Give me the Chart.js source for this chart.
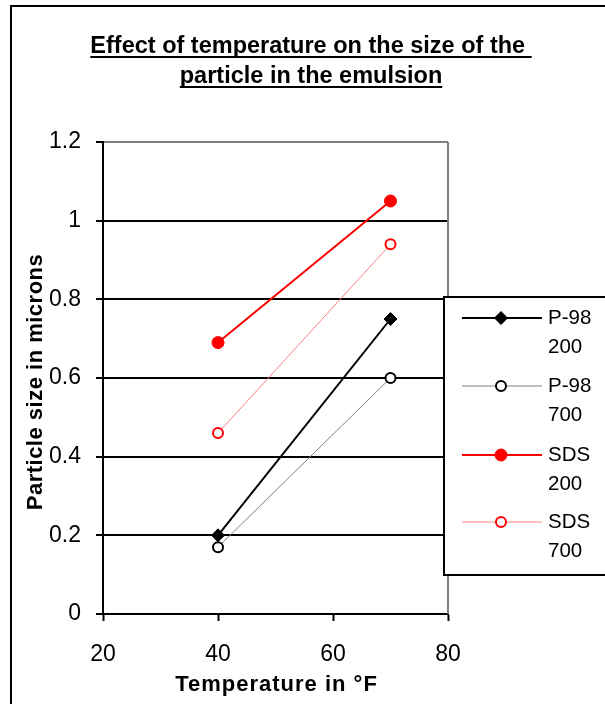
<!DOCTYPE html>
<html>
<head>
<meta charset="utf-8">
<script src="https://cdn.jsdelivr.net/npm/chart.js@4/dist/chart.umd.min.js"></script>
<style>
  html, body { margin: 0; padding: 0; background: #fff; }
  #wrap { width: 605px; height: 704px; position: relative; }
</style>
</head>
<body>
<div id="wrap"><canvas id="chart"></canvas></div>
<script>
const titleLines = ["Effect of temperature on the size of the ", "particle in the emulsion"];
const xTitle = "Temperature in °F";
const yTitle = "Particle size in microns";
const temps = [40, 70];
const p98_200 = [0.2, 0.75];
const p98_700 = [0.17, 0.6];
const sds_200 = [0.69, 1.05];
const sds_700 = [0.46, 0.94];
const seriesLabels = [["P-98", "200"], ["P-98", "700"], ["SDS", "200"], ["SDS", "700"]];

const FONT = "'Liberation Sans', Arial, sans-serif";

function toPoints(values) {
  return temps.map((t, i) => ({ x: t, y: values[i] }));
}

// frame, underlined title, axis titles, gray plot border and the boxed legend
const decor = {
  id: "decor",
  beforeDraw(chart) {
    const ctx = chart.ctx;
    const area = chart.chartArea;
    ctx.save();
    ctx.fillStyle = "#fff";
    ctx.fillRect(0, 0, chart.width, chart.height);
    ctx.strokeStyle = "#000";
    ctx.lineWidth = 2;
    ctx.strokeRect(11, 6, 700, 800);

    ctx.font = "bold 23.5px " + FONT;
    ctx.fillStyle = "#000";
    ctx.textAlign = "center";
    ctx.textBaseline = "alphabetic";
    titleLines.forEach((line, i) => {
      const y = 53 + i * 30;
      ctx.fillText(line, 311, y);
      const w = ctx.measureText(line).width;
      ctx.fillRect(311 - w / 2, y + 3, w, 2);
    });

    // axis titles, slightly letter-spaced like the original
    ctx.font = "bold 22px " + FONT;
    ctx.letterSpacing = "1px";
    ctx.fillText(xTitle, (area.left + area.right) / 2 + 1, 691);
    ctx.letterSpacing = "0.5px";
    ctx.translate(42, 382);
    ctx.rotate(-Math.PI / 2);
    ctx.fillText(yTitle, 0, 0);
    ctx.restore();
  },
  beforeDatasetsDraw(chart) {
    const { ctx, chartArea } = chart;
    ctx.save();
    ctx.strokeStyle = "#808080";
    ctx.lineWidth = 2;
    ctx.beginPath();
    ctx.moveTo(chartArea.right, chartArea.top);
    ctx.lineTo(chartArea.right, chartArea.bottom);
    ctx.stroke();
    ctx.restore();
  },
  afterDraw(chart) {
    const ctx = chart.ctx;
    ctx.save();
    ctx.fillStyle = "#fff";
    ctx.fillRect(444, 297, 170, 278);
    ctx.strokeStyle = "#000";
    ctx.lineWidth = 2;
    ctx.strokeRect(444, 297, 170, 278);

    const rows = [318, 386, 455, 522];
    chart.data.datasets.forEach((ds, i) => {
      const y = rows[i];
      ctx.strokeStyle = ds.borderColor;
      ctx.lineWidth = ds.borderWidth;
      ctx.beginPath();
      ctx.moveTo(462, y);
      ctx.lineTo(542, y);
      ctx.stroke();

      ctx.fillStyle = ds.pointBackgroundColor;
      ctx.strokeStyle = ds.pointBorderColor;
      ctx.lineWidth = ds.pointBorderWidth;
      ctx.beginPath();
      if (ds.pointStyle === "rectRot") {
        const r = ds.pointRadius;
        ctx.moveTo(501, y - r);
        ctx.lineTo(501 + r, y);
        ctx.lineTo(501, y + r);
        ctx.lineTo(501 - r, y);
        ctx.closePath();
      } else {
        ctx.arc(501, y, ds.pointRadius, 0, Math.PI * 2);
      }
      ctx.fill();
      ctx.stroke();

      ctx.fillStyle = "#000";
      ctx.font = "20.5px " + FONT;
      ctx.textAlign = "left";
      ctx.textBaseline = "middle";
      ds.label.forEach((txt, j) => ctx.fillText(txt, 548, y + j * 29));
    });
    ctx.restore();
  }
};

const ctx = document.getElementById("chart").getContext("2d");
new Chart(ctx, {
  type: "line",
  data: {
    datasets: [
      {
        label: seriesLabels[0],
        data: toPoints(p98_200),
        borderColor: "#000",
        borderWidth: 2,
        pointStyle: "rectRot",
        pointRadius: 6.5,
        pointBackgroundColor: "#000",
        pointBorderColor: "#000",
        pointBorderWidth: 1
      },
      {
        label: seriesLabels[1],
        data: toPoints(p98_700),
        borderColor: "#808080",
        borderWidth: 1,
        pointStyle: "circle",
        pointRadius: 5,
        pointBackgroundColor: "#fff",
        pointBorderColor: "#000",
        pointBorderWidth: 2
      },
      {
        label: seriesLabels[2],
        data: toPoints(sds_200),
        borderColor: "#ff0000",
        borderWidth: 2,
        pointStyle: "circle",
        pointRadius: 6,
        pointBackgroundColor: "#ff0000",
        pointBorderColor: "#ff0000",
        pointBorderWidth: 1
      },
      {
        label: seriesLabels[3],
        data: toPoints(sds_700),
        borderColor: "#ff8080",
        borderWidth: 1,
        pointStyle: "circle",
        pointRadius: 5,
        pointBackgroundColor: "#fff",
        pointBorderColor: "#ff0000",
        pointBorderWidth: 2
      }
    ]
  },
  options: {
    responsive: true,
    maintainAspectRatio: false,
    animation: false,
    layout: { padding: { left: 12, top: 142, right: 157, bottom: 0 } },
    plugins: {
      legend: { display: false },
      title: { display: false },
      tooltip: { enabled: false }
    },
    scales: {
      x: {
        type: "linear",
        min: 20,
        max: 80,
        afterFit: (scale) => { scale.height = 90; },
        ticks: {
          stepSize: 20,
          color: "#000",
          padding: 20,
          font: { family: FONT, size: 23 }
        },
        grid: {
          drawOnChartArea: false,
          drawTicks: true,
          tickLength: 7,
          tickColor: "#000",
          tickWidth: 2
        },
        border: { color: "#000", width: 2 },
        title: { display: false }
      },
      y: {
        min: 0,
        max: 1.2,
        afterFit: (scale) => { scale.width = 91; },
        ticks: {
          stepSize: 0.2,
          color: "#000",
          padding: 15,
          font: { family: FONT, size: 23 },
          callback: (v) => String(Math.round(v * 10) / 10)
        },
        grid: {
          color: (c) => (c.tick && c.tick.value >= 1.19 ? "#808080" : "#000"),
          lineWidth: 2,
          tickLength: 7,
          tickColor: "#000",
          tickWidth: 2
        },
        border: { color: "#000", width: 2 },
        title: { display: false }
      }
    }
  },
  plugins: [decor]
});
</script>
</body>
</html>
